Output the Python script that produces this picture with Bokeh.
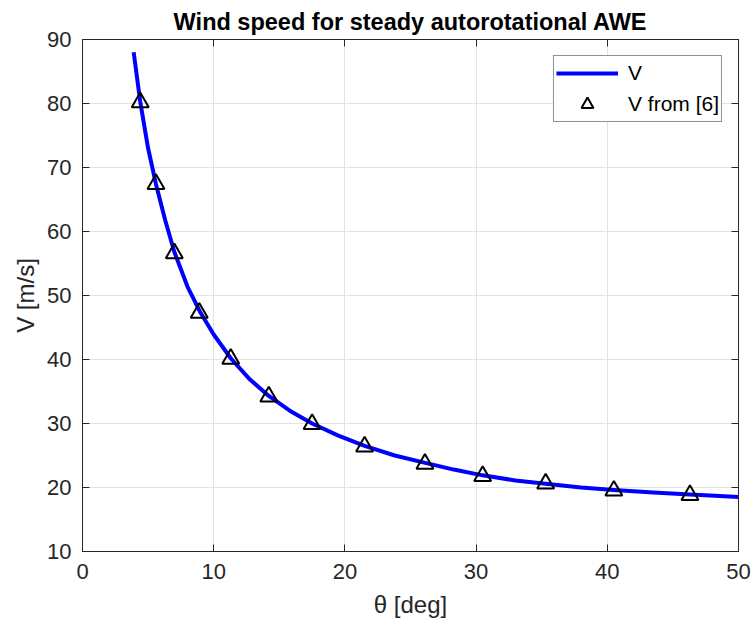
from bokeh.plotting import figure
from bokeh.models import (LinearAxis, SingleIntervalTicker, CustomJSTickFormatter,
                          Legend, LegendItem, Range1d)
from bokeh.embed import file_html
from bokeh.resources import INLINE

# Curve V(theta)
theta_curve = [3.9, 4.4, 5.0, 5.6, 6.3, 7.0, 8.0, 9.0, 10.0, 11.3, 12.7, 14.2, 15.8,
               17.5, 19.5, 21.5, 23.8, 26.2, 28.3, 30.5, 33.0, 35.3, 38.0, 40.5,
               43.5, 46.3, 48.2, 50.0]
v_curve = [88.0, 80.3, 73.0, 67.4, 61.8, 56.8, 51.4, 47.3, 43.9, 40.2, 37.0, 34.3, 32.0,
           30.0, 28.1, 26.5, 25.0, 23.8, 22.8, 21.9, 21.1, 20.6, 20.0, 19.6,
           19.2, 18.9, 18.7, 18.5]

# Reference points "V from [6]"
theta_ref = [4.4, 5.6, 7.0, 8.9, 11.3, 14.2, 17.5, 21.5, 26.1, 30.5, 35.3, 40.5, 46.3]
v_ref = [80.2, 67.4, 56.6, 47.3, 40.1, 34.2, 29.9, 26.4, 23.7, 21.8, 20.6, 19.5, 18.8]

FONT = "Liberation Sans"
AX = "#262626"

p = figure(width=752, height=630, output_backend="svg", toolbar_location=None,
           x_range=Range1d(0, 50), y_range=Range1d(10, 90),
           min_border_left=82, min_border_right=14, min_border_top=39, min_border_bottom=79,
           title="Wind speed for steady autorotational AWE")
p.background_fill_color = "white"
p.border_fill_color = "white"
p.outline_line_color = AX
p.outline_line_width = 1

p.title.align = "center"
p.title.text_font = FONT
p.title.text_font_size = "23.5px"
p.title.text_font_style = "bold"
p.title.text_color = "black"
p.title.standoff = 10

for ax in (p.xaxis[0], p.yaxis[0]):
    ax.ticker = SingleIntervalTicker(interval=10, num_minor_ticks=0)
    ax.major_tick_in = 7
    ax.major_tick_out = 0
    ax.minor_tick_line_color = None
    ax.axis_line_color = AX
    ax.major_tick_line_color = AX
    ax.major_label_text_font = FONT
    ax.major_label_text_font_size = "22px"
    ax.major_label_text_color = AX
    ax.axis_label_text_font = FONT
    ax.axis_label_text_font_size = "24px"
    ax.axis_label_text_font_style = "normal"
    ax.axis_label_text_color = AX

p.xaxis[0].axis_label = "θ [deg]"
p.yaxis[0].axis_label = "V [m/s]"
p.xaxis[0].major_label_standoff = 12
p.yaxis[0].major_label_standoff = 11
p.xaxis[0].axis_label_standoff = 9
p.yaxis[0].axis_label_standoff = 5

blank = CustomJSTickFormatter(code="return ''")
top = LinearAxis(ticker=SingleIntervalTicker(interval=10, num_minor_ticks=0), formatter=blank,
                 major_tick_in=7, major_tick_out=0, minor_tick_line_color=None,
                 major_label_standoff=0, axis_line_color=AX, major_tick_line_color=AX)
right = LinearAxis(ticker=SingleIntervalTicker(interval=10, num_minor_ticks=0), formatter=blank,
                   major_tick_in=7, major_tick_out=0, minor_tick_line_color=None,
                   major_label_standoff=0, axis_line_color=AX, major_tick_line_color=AX)
p.add_layout(top, "above")
p.add_layout(right, "right")

p.xgrid.ticker = SingleIntervalTicker(interval=10)
p.ygrid.ticker = SingleIntervalTicker(interval=10)
p.grid.grid_line_color = "#e3e3e3"
p.grid.grid_line_width = 1

r_line = p.line(theta_curve, v_curve, line_color="#0000ff", line_width=4, line_join="round")
r_pts = p.scatter(theta_ref, v_ref, marker="triangle", size=17, fill_alpha=0,
                  line_color="black", line_width=2)

legend = Legend(items=[LegendItem(label="V", renderers=[r_line]),
                       LegendItem(label="V from [6]", renderers=[r_pts])],
                location="top_right")
legend.margin = 16
legend.padding = 2
legend.spacing = 1
legend.glyph_width = 62
legend.glyph_height = 30
legend.label_height = 30
legend.label_standoff = 10
legend.label_text_font = FONT
legend.label_text_font_size = "21px"
legend.label_text_color = "black"
legend.border_line_color = AX
legend.border_line_width = 1
legend.background_fill_color = "white"
legend.background_fill_alpha = 1
p.add_layout(legend)

open("out.html", "w").write(file_html(p, INLINE))
